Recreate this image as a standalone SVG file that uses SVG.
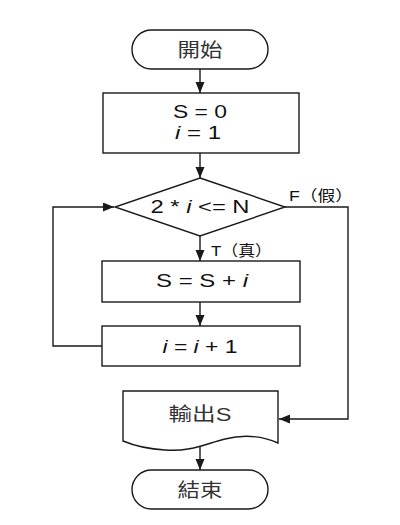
<svg xmlns="http://www.w3.org/2000/svg" width="400" height="525" viewBox="0 0 400 525">
<style>
.shape{fill:#fff;stroke:#1a1a1a;stroke-width:1.4}
.conn{fill:none;stroke:#1a1a1a;stroke-width:1.4}
.t{font-family:"Liberation Sans","Noto Sans CJK TC",sans-serif;font-size:18px;fill:#111;text-anchor:middle}
.cjk{font-family:"Liberation Sans","Noto Sans CJK TC",sans-serif;font-size:19px;fill:#333;text-anchor:middle}
.lbl{font-family:"Liberation Sans","Noto Sans CJK TC",sans-serif;font-size:15px;fill:#111}
.it{font-style:italic}
</style>
<defs>
<marker id="arr" markerUnits="userSpaceOnUse" markerWidth="12" markerHeight="10" refX="11" refY="4.5" orient="auto">
<path d="M0,0 L11,4.5 L0,9 z" fill="#1a1a1a"/>
</marker>
</defs>
<rect width="400" height="525" fill="#fff"/>
<g id="connectors">
<line class="conn" x1="200" y1="69" x2="200" y2="93" marker-end="url(#arr)"/>
<line class="conn" x1="200" y1="153" x2="200" y2="178" marker-end="url(#arr)"/>
<line class="conn" x1="200" y1="236" x2="200" y2="261" marker-end="url(#arr)"/>
<line class="conn" x1="200" y1="302" x2="200" y2="326" marker-end="url(#arr)"/>
<polyline class="conn" points="102,346 53,346 53,207 114,207" marker-end="url(#arr)"/>
<polyline class="conn" points="285,207 348,207 348,419 279,419" marker-end="url(#arr)"/>
<line class="conn" x1="200" y1="445" x2="200" y2="470" marker-end="url(#arr)"/>
<text class="lbl" x="289" y="201" textLength="64" lengthAdjust="spacingAndGlyphs">F（假）</text>
<text class="lbl" x="211" y="256" textLength="61" lengthAdjust="spacingAndGlyphs">T（真）</text>
</g>
<g id="start">
<rect class="shape" x="132" y="30" width="136" height="39" rx="19.5"/>
<text class="cjk" x="200" y="57" textLength="45" lengthAdjust="spacingAndGlyphs">開始</text>
</g>
<g id="init">
<rect class="shape" x="103" y="93" width="196" height="60"/>
<text class="t" x="200" y="118" textLength="54" lengthAdjust="spacingAndGlyphs">S = 0</text>
<text class="t" x="198" y="139" textLength="46" lengthAdjust="spacingAndGlyphs"><tspan class="it">i</tspan> = 1</text>
</g>
<g id="cond">
<polygon class="shape" points="200,178 285,207 200,236 115,207"/>
<text class="t" x="200" y="213" textLength="99" lengthAdjust="spacingAndGlyphs">2 * <tspan class="it">i</tspan> &lt;= N</text>
</g>
<g id="sum">
<rect class="shape" x="102" y="261" width="198" height="41"/>
<text class="t" x="202" y="287" textLength="92" lengthAdjust="spacingAndGlyphs">S = S + <tspan class="it">i</tspan></text>
</g>
<g id="inc">
<rect class="shape" x="102" y="326" width="198" height="40"/>
<text class="t" x="200" y="353" textLength="75" lengthAdjust="spacingAndGlyphs"><tspan class="it">i</tspan> = <tspan class="it">i</tspan> + 1</text>
</g>
<g id="output">
<path class="shape" d="M123,391 H278 V443 C262,436 245,434 225,439 C205,444 190,452 165,450 C148,449 135,446 123,441 Z"/>
<text class="cjk" x="200" y="421" textLength="63" lengthAdjust="spacingAndGlyphs">輸出S</text>
</g>
<g id="end">
<rect class="shape" x="132" y="470" width="136" height="39" rx="19.5"/>
<text class="cjk" x="200" y="497" textLength="45" lengthAdjust="spacingAndGlyphs">結束</text>
</g>
</svg>
